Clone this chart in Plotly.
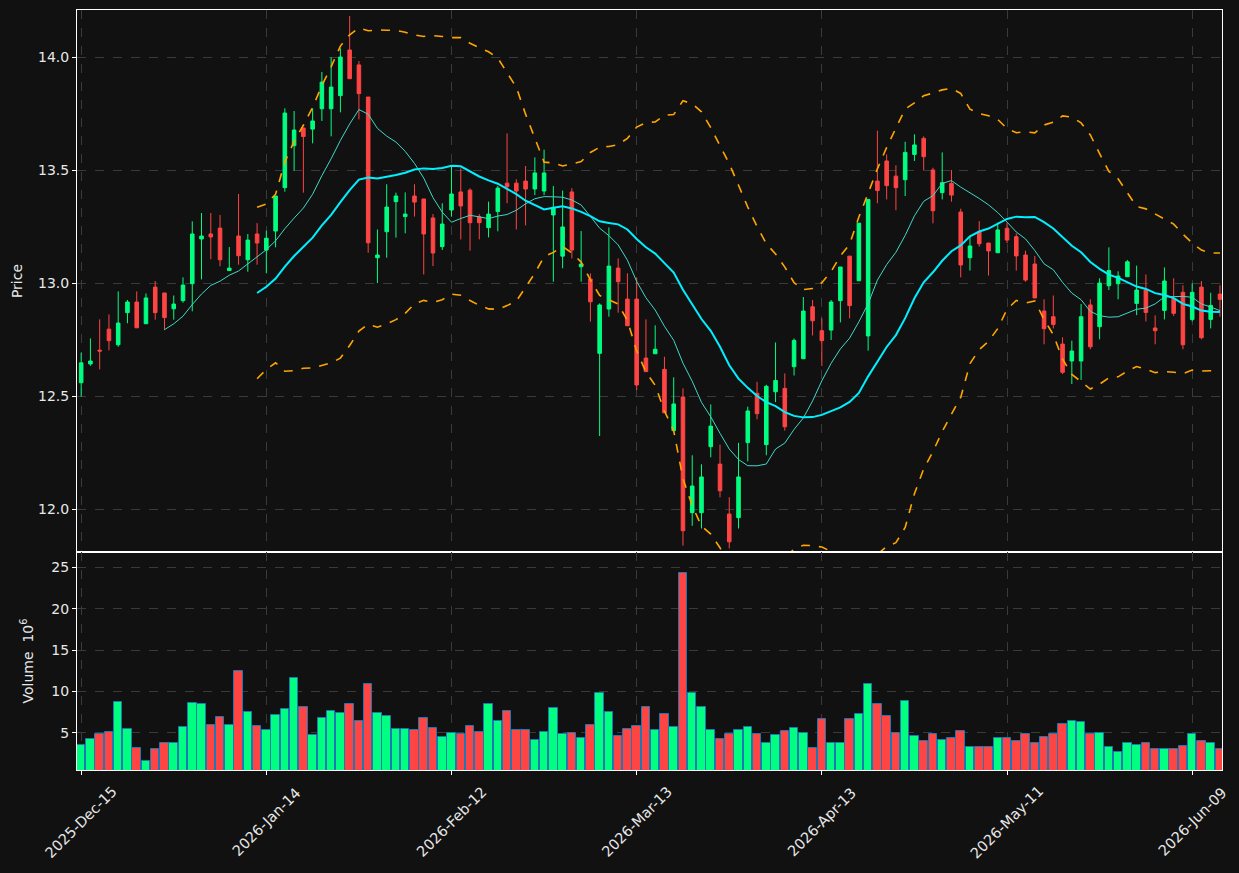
import pandas as pd
import plotly.graph_objects as go
from plotly.subplots import make_subplots

holidays = ["2025-12-25", "2026-01-01", "2026-01-19", "2026-02-16", "2026-04-03", "2026-05-25"]
dates = pd.bdate_range("2025-12-15", "2026-06-12", freq="C", holidays=holidays)

opens = [12.559, 12.642, 12.703, 12.796, 12.727, 12.869, 12.916, 12.820, 12.982, 12.956,
         12.886, 12.922, 12.997, 13.195, 13.217, 13.243, 13.055, 13.208, 13.103, 13.217,
         13.146, 13.230, 13.422, 13.608, 13.686, 13.681, 13.771, 13.771, 13.829, 14.031,
         13.965, 13.823, 13.112, 13.227, 13.360, 13.294, 13.385, 13.372, 13.288, 13.161,
         13.323, 13.403, 13.411, 13.293, 13.245, 13.316, 13.442, 13.442, 13.451, 13.416,
         13.407, 13.301, 13.119, 13.403, 13.072, 13.018, 12.689, 12.885, 13.066, 12.929,
         12.929, 12.668, 12.687, 12.618, 12.347, 12.496, 11.984, 11.984, 12.276, 12.199,
         11.978, 11.962, 12.294, 12.512, 12.285, 12.519, 12.534, 12.630, 12.665, 12.895,
         12.789, 12.792, 12.922, 13.119, 13.010, 12.766, 13.451, 13.540, 13.473, 13.457,
         13.569, 13.640, 13.500, 13.400, 13.441, 13.314, 13.112, 13.226, 13.177, 13.134,
         13.242, 13.205, 13.124, 13.084, 12.876, 12.851, 12.730, 12.655, 12.655, 12.903,
         12.807, 12.988, 12.997, 13.028, 12.910, 12.969, 12.801, 12.879, 12.931, 12.959,
         12.839, 12.982, 12.839, 12.951]

closes = [12.647, 12.655, 12.699, 12.745, 12.823, 12.916, 12.802, 12.934, 12.869, 12.847,
          12.907, 12.991, 13.217, 13.208, 13.204, 13.103, 13.066, 13.121, 13.190, 13.177,
          13.198, 13.385, 13.752, 13.677, 13.648, 13.717, 13.889, 13.867, 14.000, 13.904,
          13.838, 13.178, 13.124, 13.336, 13.385, 13.305, 13.358, 13.217, 13.133, 13.261,
          13.394, 13.341, 13.267, 13.267, 13.305, 13.420, 13.426, 13.407, 13.416, 13.487,
          13.487, 13.333, 13.248, 13.146, 13.084, 12.917, 12.903, 13.075, 13.006, 12.811,
          12.549, 12.608, 12.707, 12.426, 12.465, 11.904, 12.102, 12.142, 12.367, 12.081,
          11.855, 12.142, 12.434, 12.422, 12.543, 12.569, 12.364, 12.746, 12.876, 12.833,
          12.745, 12.916, 13.071, 12.900, 13.265, 13.370, 13.409, 13.431, 13.422, 13.578,
          13.611, 13.559, 13.320, 13.444, 13.389, 13.080, 13.164, 13.174, 13.142, 13.235,
          13.190, 13.120, 13.013, 12.934, 12.798, 12.817, 12.605, 12.699, 12.851, 12.718,
          13.000, 13.055, 13.031, 13.094, 12.969, 12.870, 12.789, 13.009, 12.866, 12.727,
          12.959, 12.758, 12.901, 12.928]

highs = [12.692, 12.755, 12.839, 12.861, 12.963, 12.925, 12.963, 12.954, 13.009, 12.956,
         12.945, 13.025, 13.273, 13.310, 13.310, 13.301, 13.159, 13.394, 13.217, 13.265,
         13.232, 13.385, 13.773, 13.761, 13.686, 13.773, 13.934, 13.999, 14.038, 14.181,
         13.982, 13.823, 13.237, 13.437, 13.400, 13.401, 13.437, 13.372, 13.305, 13.353,
         13.518, 13.507, 13.419, 13.305, 13.360, 13.429, 13.662, 13.459, 13.518, 13.556,
         13.590, 13.429, 13.409, 13.420, 13.230, 13.043, 12.910, 13.246, 13.109, 13.043,
         13.025, 12.839, 12.813, 12.674, 12.583, 12.534, 12.238, 12.198, 12.463, 12.285,
         12.052, 12.293, 12.453, 12.563, 12.550, 12.737, 12.600, 12.755, 12.938, 12.925,
         12.844, 12.925, 13.071, 13.119, 13.265, 13.370, 13.674, 13.569, 13.521, 13.625,
         13.658, 13.649, 13.510, 13.578, 13.500, 13.329, 13.205, 13.274, 13.177, 13.267,
         13.267, 13.220, 13.143, 13.120, 12.928, 12.945, 12.760, 12.745, 12.907, 12.928,
         13.021, 13.158, 13.052, 13.102, 13.077, 13.038, 12.857, 13.069, 13.021, 12.990,
         12.999, 13.009, 12.957, 12.990]

lows = [12.497, 12.634, 12.618, 12.702, 12.718, 12.822, 12.802, 12.820, 12.838, 12.792,
        12.838, 12.913, 12.875, 13.016, 13.105, 13.074, 13.055, 13.081, 13.050, 13.081,
        13.043, 13.158, 13.404, 13.497, 13.400, 13.618, 13.717, 13.649, 13.755, 13.904,
        13.724, 13.134, 13.000, 13.112, 13.201, 13.220, 13.294, 13.038, 13.075, 13.146,
        13.294, 13.193, 13.143, 13.193, 13.202, 13.229, 13.353, 13.237, 13.255, 13.389,
        13.389, 13.006, 13.065, 13.109, 13.006, 12.829, 12.323, 12.851, 12.869, 12.811,
        12.526, 12.608, 12.687, 12.426, 12.347, 11.838, 11.926, 11.914, 12.229, 12.052,
        11.826, 11.914, 12.211, 12.397, 12.238, 12.473, 12.347, 12.591, 12.665, 12.768,
        12.633, 12.748, 12.826, 12.844, 13.010, 12.701, 13.353, 13.370, 13.322, 13.385,
        13.540, 13.500, 13.264, 13.370, 13.360, 13.025, 13.055, 13.161, 13.033, 13.134,
        13.176, 13.055, 13.006, 12.934, 12.729, 12.799, 12.597, 12.553, 12.571, 12.707,
        12.751, 12.969, 12.928, 13.028, 12.858, 12.830, 12.729, 12.839, 12.854, 12.707,
        12.830, 12.751, 12.799, 12.851]

volumes_m = [3.51, 4.24, 4.88, 5.08, 8.70, 5.44, 3.15, 1.62, 3.03, 3.79,
             3.79, 5.68, 8.58, 8.46, 5.97, 6.89, 5.97, 12.44, 7.49, 5.80,
             5.32, 7.13, 7.86, 11.60, 8.10, 4.76, 6.73, 7.62, 7.37, 8.46,
             6.41, 10.88, 7.37, 7.01, 5.44, 5.44, 5.32, 6.77, 5.56, 4.48,
             4.96, 4.88, 5.80, 5.08, 8.46, 6.41, 7.62, 5.32, 5.32, 4.11,
             5.08, 7.98, 4.84, 4.96, 4.36, 5.97, 9.79, 7.49, 4.60, 5.44,
             5.80, 8.10, 5.32, 7.25, 5.68, 24.28, 9.79, 8.10, 5.32, 4.24,
             4.84, 5.32, 5.68, 4.84, 3.75, 4.72, 5.20, 5.56, 4.96, 3.15,
             6.65, 3.75, 3.75, 6.65, 7.25, 10.88, 8.46, 7.01, 4.96, 8.82,
             4.60, 3.99, 4.84, 4.11, 4.36, 5.20, 3.27, 3.27, 3.27, 4.36,
             4.36, 3.99, 4.84, 3.75, 4.48, 4.84, 6.05, 6.41, 6.29, 4.84,
             4.96, 3.27, 2.67, 3.75, 3.51, 3.75, 3.03, 3.03, 3.03, 3.39,
             4.84, 3.99, 3.75, 3.03]

tick_idx = [0, 20, 40, 60, 80, 100, 120]
tick_text = [dates[i].strftime("%Y-%b-%d") for i in tick_idx]

UP = "#00ff80"
DOWN = "#ff4444"
BG = "#111111"
GRID = "#3a3a3a"
FG = "#e8e8e8"
FONT = "DejaVu Sans"

x = list(range(len(closes)))
close_s = pd.Series(closes)
mav10 = close_s.rolling(10).mean()
mav20 = close_s.rolling(20).mean()
std20 = close_s.rolling(20).std(ddof=0)
bb_up = mav20 + 2 * std20
bb_lo = mav20 - 2 * std20

vol_colors = [UP if c >= o else DOWN for o, c in zip(opens, closes)]

fig = make_subplots(rows=2, cols=1, shared_xaxes=True, vertical_spacing=0,
                    row_heights=[542 / 760, 218 / 760])

fig.add_trace(go.Candlestick(
    x=x, open=opens, high=highs, low=lows, close=closes,
    increasing=dict(line=dict(color=UP, width=1), fillcolor=UP),
    decreasing=dict(line=dict(color=DOWN, width=1), fillcolor=DOWN),
    whiskerwidth=0, showlegend=False, hoverinfo="skip"), row=1, col=1)

fig.add_trace(go.Scatter(x=x, y=mav10, mode="lines",
                         line=dict(color="#40d8c8", width=1), showlegend=False), row=1, col=1)
fig.add_trace(go.Scatter(x=x, y=mav20, mode="lines",
                         line=dict(color="#00f0ff", width=2), showlegend=False), row=1, col=1)
fig.add_trace(go.Scatter(x=x, y=bb_up, mode="lines",
                         line=dict(color="#ffa500", width=1.6, dash="dash"), showlegend=False), row=1, col=1)
fig.add_trace(go.Scatter(x=x, y=bb_lo, mode="lines",
                         line=dict(color="#ffa500", width=1.6, dash="dash"), showlegend=False), row=1, col=1)

fig.add_trace(go.Bar(x=x, y=volumes_m, width=0.92, marker=dict(color=vol_colors,
                     line=dict(color="#1f77b4", width=1)), showlegend=False), row=2, col=1)

axis_common = dict(showline=True, linecolor="white", linewidth=1, mirror=True,
                   showgrid=True, gridcolor=GRID, griddash="dash", gridwidth=1,
                   zeroline=False, ticks="outside", tickcolor="white", ticklen=4,
                   tickfont=dict(family=FONT, size=14, color=FG))

fig.update_xaxes(**axis_common, range=[-0.45, 123.22], tickmode="array",
                 tickvals=tick_idx, ticktext=tick_text, showticklabels=False,
                 rangeslider_visible=False)
fig.update_xaxes(ticks="", row=1, col=1)

fig.update_yaxes(**axis_common)
fig.update_yaxes(range=[11.81, 14.208], tickvals=[12.0, 12.5, 13.0, 13.5, 14.0],
                 ticktext=["12.0", "12.5", "13.0", "13.5", "14.0"],
                 title=dict(text="Price", font=dict(family=FONT, size=14, color=FG), standoff=12),
                 row=1, col=1)
fig.update_yaxes(range=[0.49, 26.85], tickvals=[5, 10, 15, 20, 25],
                 title=dict(text="Volume  10<sup>6</sup>", font=dict(family=FONT, size=14, color=FG), standoff=14),
                 row=2, col=1)

# rotated date labels centred under each tick (matplotlib-style)
for i, t in zip(tick_idx, tick_text):
    fig.add_annotation(x=i, xref="x2", y=-52 / 760, yref="paper", text=t,
                       textangle=-45, showarrow=False, xanchor="center", yanchor="middle",
                       font=dict(family=FONT, size=14.5, color=FG))

fig.update_layout(width=1239, height=873, paper_bgcolor=BG, plot_bgcolor=BG,
                  margin=dict(l=77, r=17, t=10, b=103), boxgap=0.45, bargap=0,
                  font=dict(family=FONT, size=14, color=FG), showlegend=False)

fig.write_html("out.html")
